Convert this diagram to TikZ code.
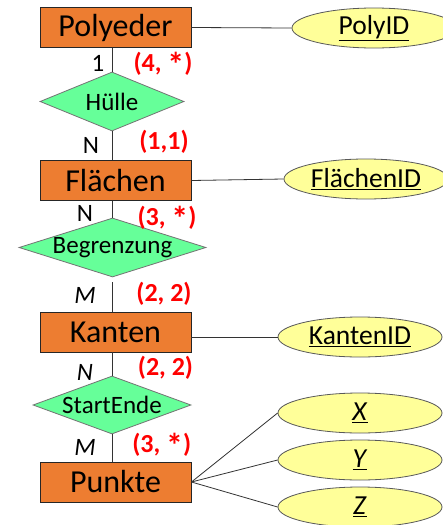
\documentclass[tikz,border=0pt]{standalone}
\usepackage{fontspec}
\setmainfont{Carlito}
\usetikzlibrary{shapes.geometric}
\definecolor{entorange}{RGB}{237,125,49}
\definecolor{relgreen}{RGB}{102,255,153}
\definecolor{attyellow}{RGB}{255,255,153}
\definecolor{cardred}{RGB}{255,0,0}
\newcommand{\bigast}{\raisebox{-0.35ex}{\fontsize{34}{30}\selectfont *}}
\begin{document}
\begin{tikzpicture}[x=1pt,y=-1pt,
  entity/.style={rectangle, draw=black!85, line width=0.9pt, fill=entorange, minimum width=151pt, minimum height=40pt, inner sep=0pt, font=\fontsize{32}{36}\selectfont},
  relation/.style={diamond, draw=black!55, line width=0.8pt, fill=relgreen, inner sep=0pt, font=\fontsize{25}{28}\selectfont},
  attrib/.style={ellipse, draw=black!65, line width=0.8pt, fill=attyellow, minimum width=164pt, minimum height=40pt, inner sep=0pt, font=\fontsize{27.5}{30}\selectfont},
  card/.style={font=\fontsize{25}{28}\selectfont, inner sep=0pt},
  cardnum/.style={font=\fontsize{26}{30}\selectfont\bfseries, text=cardred, inner sep=0pt},
  conn/.style={draw=black!80, line width=0.8pt}
]
\clip (0,0) rectangle (443,525);
\fill[white] (0,0) rectangle (443,525);

% entities
\node[entity] (poly) at (115.5,27.5) {Polyeder};
\node[entity] (flaechen) at (115.5,180.5) {Flächen};
\node[entity] (kanten) at (115.5,332) {Kanten};
\node[entity] (punkte) at (115.5,482) {Punkte};

% relations
\node[relation, minimum width=144pt, minimum height=59pt] (huelle) at (112,101.5) {\makebox[0pt]{Hülle}};
\node[relation, minimum width=187pt, minimum height=59pt] (begr) at (112.5,247.5) {\makebox[0pt]{Begrenzung}};
\node[relation, minimum width=158pt, minimum height=58pt] (startende) at (112,405) {\makebox[0pt]{StartEnde}};

% attributes
\node[attrib] (polyid) at (374,28) {\underline{PolyID}};
\node[attrib] (flaechenid) at (366,179) {\underline{FlächenID}};
\node[attrib] (kantenid) at (360,337) {\underline{KantenID}};
\node[attrib] (ax) at (360,413) {\underline{\textit{X}}};
\node[attrib] (ay) at (360,460) {\underline{\textit{Y}}};
\node[attrib] (az) at (360,507) {\underline{\textit{Z}}};

% vertical connectors
\draw[conn] (huelle.north |- poly.south) -- (huelle.north);
\draw[conn] (huelle.south) -- (huelle.south |- flaechen.north);
\draw[conn] (begr.north |- flaechen.south) -- (begr.north);
\draw[conn] ([yshift=-5pt]begr.south) -- (begr.south |- kanten.north);
\draw[conn] (startende.north |- kanten.south) -- (startende.north);
\draw[conn] (startende.south) -- (startende.south |- punkte.north);

% attribute connectors
\draw[conn] (poly.east) -- (polyid.west);
\draw[conn] (flaechen.east) -- (flaechenid.west);
\draw[conn] (kanten.east |- kantenid.west) -- (kantenid.west);
\draw[conn] (punkte.east) -- (ax.west);
\draw[conn] (punkte.east) -- (ay.west);
\draw[conn] (punkte.east) -- (az.west);

% cardinalities
\node[card] (c1) at (98,63) {1};
\node[cardnum] (r1) at (163,64) {(4, \bigast)};
\node[card] (c2) at (91,145) {N};
\node[cardnum] (r2) at (164,142) {(1,1)};
\node[card] (c3) at (85,213) {N};
\node[cardnum] (r3) at (167,218) {(3, \bigast)};
\node[card] (c4) at (85,295) {\textit{M}};
\node[cardnum] (r4) at (164,294) {(2, 2)};
\node[card] (c5) at (85,372) {\textit{N}};
\node[cardnum] (r5) at (165.5,368) {(2, 2)};
\node[card] (c6) at (85,447) {\textit{M}};
\node[cardnum] (r6) at (161.7,445) {(3, \bigast)};
\end{tikzpicture}
\end{document}
